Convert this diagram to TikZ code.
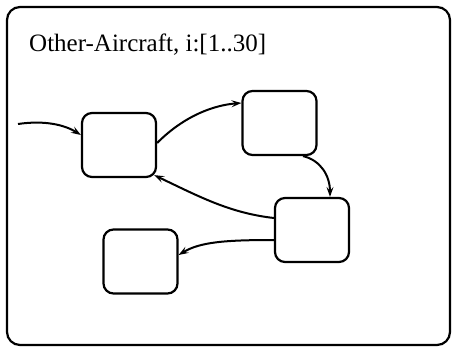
\documentclass[tikz,border=0pt]{standalone}
\usepackage{fontspec}
\setmainfont{Liberation Serif}
\usetikzlibrary{arrows.meta}
\begin{document}
\begin{tikzpicture}[x=1pt,y=-1pt,
  state/.style={draw,line width=2.2pt,rounded corners=10pt,minimum width=74pt,minimum height=64pt,inner sep=0pt},
  trans/.style={-{Stealth[length=10pt,width=7pt,inset=4pt]},line width=2pt}]
\useasboundingbox (0,0) rectangle (452,348);
\draw[rounded corners=13pt,line width=2.2pt] (7,7) rectangle (450,345);
\node[anchor=base west,inner sep=0pt,font=\fontsize{25}{28}\selectfont] (title) at (29,51) {Other-Aircraft, i:[1..30]};
\node[state] (A) at (119,145) {};
\node[state] (B) at (279.5,123) {};
\node[state] (C) at (312,230) {};
\node[state] (D) at (140.5,261.5) {};
\coordinate (in) at (18,124);
\draw[trans] (in) .. controls (45,120) and (65,125) .. ([yshift=10pt]A.west);
\draw[trans] ([yshift=2pt]A.east) .. controls (185,115) and (215,105) .. ([yshift=20pt]B.west);
\draw[trans] ([xshift=23.5pt]B.south) .. controls (320,160) and (330,175) .. ([xshift=18pt]C.north);
\draw[trans] ([yshift=12pt]C.west) .. controls (230,213) and (200,197) .. ([shift={(-3pt,3pt)}]A.south east);
\draw[trans] ([yshift=-10pt]C.west) .. controls (225,240) and (200,242) .. ([yshift=6.5pt]D.east);
\end{tikzpicture}
\end{document}
